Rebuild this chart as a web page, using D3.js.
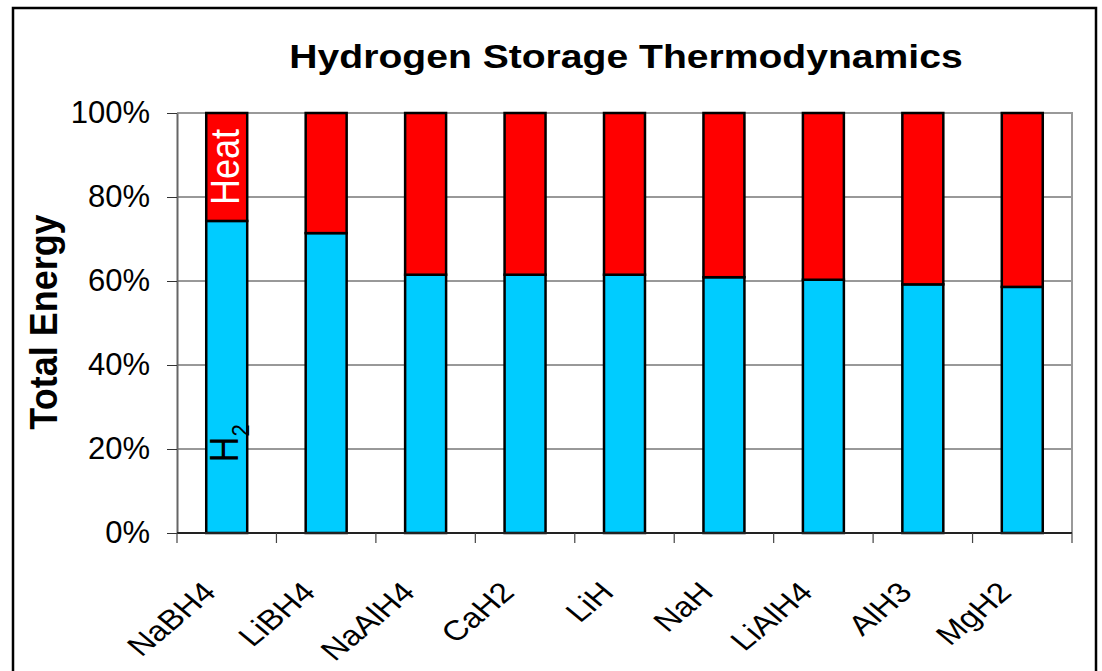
<!DOCTYPE html>
<html>
<head>
<meta charset="utf-8">
<script src="https://cdn.jsdelivr.net/npm/d3@7"></script>
<style>
  body { margin: 0; background: #fff; }
  text { font-family: "Liberation Sans", Arial, sans-serif; }
</style>
</head>
<body>
<div id="chart"></div>
<script>
// chart data
var categories = ["NaBH4", "LiBH4", "NaAlH4", "CaH2", "LiH", "NaH", "LiAlH4", "AlH3", "MgH2"];
var h2Share = [0.743, 0.714, 0.615, 0.615, 0.615, 0.609, 0.603, 0.592, 0.586];
var heatShare = h2Share.map(function (v) { return 1 - v; });
var yTicks = [0, 0.2, 0.4, 0.6, 0.8, 1.0];

var svgWidth = 1102;
var svgHeight = 671;

var margin = { top: 113, right: 30, bottom: 138, left: 177 };
var width = 1072 - margin.left;
var height = 533 - margin.top;

var svg = d3.select("#chart")
  .append("svg")
  .attr("width", svgWidth)
  .attr("height", svgHeight);

// outer frame
svg.append("rect")
  .attr("x", 13)
  .attr("y", 8)
  .attr("width", 1083)
  .attr("height", 720)
  .attr("fill", "none")
  .attr("stroke", "#000")
  .attr("stroke-width", 2.5);

var chartGroup = svg.append("g")
  .attr("transform", `translate(${margin.left}, ${margin.top})`);

var xScale = d3.scaleBand()
  .domain(categories)
  .range([0, width])
  .paddingInner(0.588)
  .paddingOuter(0.294);

var yScale = d3.scaleLinear()
  .domain([0, 1])
  .range([height, 0]);

// gridlines
chartGroup.append("g")
  .selectAll("line")
  .data(yTicks.filter(d => d > 0 && d < 1))
  .enter()
  .append("line")
  .attr("x1", 0)
  .attr("x2", width)
  .attr("y1", d => yScale(d))
  .attr("y2", d => yScale(d))
  .attr("stroke", "#333")
  .attr("stroke-width", 1);

// plot area border (top and right)
chartGroup.append("path")
  .attr("d", `M0,0H${width}V${height}`)
  .attr("fill", "none")
  .attr("stroke", "#999")
  .attr("stroke-width", 2);

// y axis
var leftAxis = d3.axisLeft(yScale)
  .tickValues(yTicks)
  .tickFormat(d3.format(".0%"))
  .tickSize(10)
  .tickSizeOuter(0)
  .tickPadding(17);

var yAxis = chartGroup.append("g").call(leftAxis);
yAxis.select(".domain").attr("stroke", "#666").attr("stroke-width", 2);
yAxis.selectAll(".tick line").attr("stroke", "#333");
yAxis.selectAll(".tick text")
  .attr("font-size", 31)
  .attr("font-family", "Liberation Sans, Arial, sans-serif")
  .attr("fill", "#000");

// bars
var rows = categories.map(function (c, i) {
  return { name: c, h2: h2Share[i], heat: heatShare[i] };
});

chartGroup.selectAll(".bar-h2")
  .data(rows)
  .enter()
  .append("rect")
  .attr("class", "bar-h2")
  .attr("x", d => xScale(d.name))
  .attr("y", d => yScale(d.h2))
  .attr("width", xScale.bandwidth())
  .attr("height", d => height - yScale(d.h2))
  .attr("fill", "#00CCFF")
  .attr("stroke", "#000")
  .attr("stroke-width", 2.5);

chartGroup.selectAll(".bar-heat")
  .data(rows)
  .enter()
  .append("rect")
  .attr("class", "bar-heat")
  .attr("x", d => xScale(d.name))
  .attr("y", d => yScale(d.h2 + d.heat))
  .attr("width", xScale.bandwidth())
  .attr("height", d => yScale(d.h2) - yScale(d.h2 + d.heat))
  .attr("fill", "#FF0000")
  .attr("stroke", "#000")
  .attr("stroke-width", 2.5);

// x axis line and ticks at category boundaries
chartGroup.append("line")
  .attr("x1", 0)
  .attr("x2", width)
  .attr("y1", height)
  .attr("y2", height)
  .attr("stroke", "#222")
  .attr("stroke-width", 2);

chartGroup.append("g")
  .selectAll("line")
  .data(d3.range(categories.length + 1))
  .enter()
  .append("line")
  .attr("x1", i => i * xScale.step())
  .attr("x2", i => i * xScale.step())
  .attr("y1", height)
  .attr("y2", height + 10)
  .attr("stroke", "#444")
  .attr("stroke-width", 1.2);

// x labels, rotated
chartGroup.append("g")
  .selectAll("text")
  .data(categories)
  .enter()
  .append("text")
  .attr("transform", d => `translate(${xScale(d) + xScale.bandwidth() / 2 - 9}, ${height + 61}) scale(1.2,1) rotate(-45)`)
  .attr("text-anchor", "end")
  .attr("font-size", 28)
  .attr("fill", "#000")
  .text(d => d);

// in-bar labels on the first bar
var first = categories[0];
var cx = xScale(first) + xScale.bandwidth() / 2;

chartGroup.append("text")
  .attr("transform", `translate(${cx + 12}, ${yScale(h2Share[0]) - 16}) scale(1.12,1) rotate(-90)`)
  .attr("font-size", 36)
  .attr("fill", "#fff")
  .text("Heat");

var h2Label = chartGroup.append("text")
  .attr("transform", `translate(${cx + 11}, ${yScale(0.17) + 1}) scale(1.12,1) rotate(-90)`)
  .attr("font-size", 36)
  .attr("fill", "#000");
h2Label.append("tspan").text("H");
h2Label.append("tspan").attr("dy", 10).attr("font-size", 22).text("2");

// y axis title
svg.append("text")
  .attr("transform", "translate(57, 322) scale(1.06,1) rotate(-90)")
  .attr("text-anchor", "middle")
  .attr("font-size", 36)
  .attr("font-weight", "bold")
  .text("Total Energy");

// chart title
svg.append("text")
  .attr("transform", "translate(626, 68) scale(1.15,1)")
  .attr("text-anchor", "middle")
  .attr("font-size", 34)
  .attr("font-weight", "bold")
  .text("Hydrogen Storage Thermodynamics");
</script>
</body>
</html>
